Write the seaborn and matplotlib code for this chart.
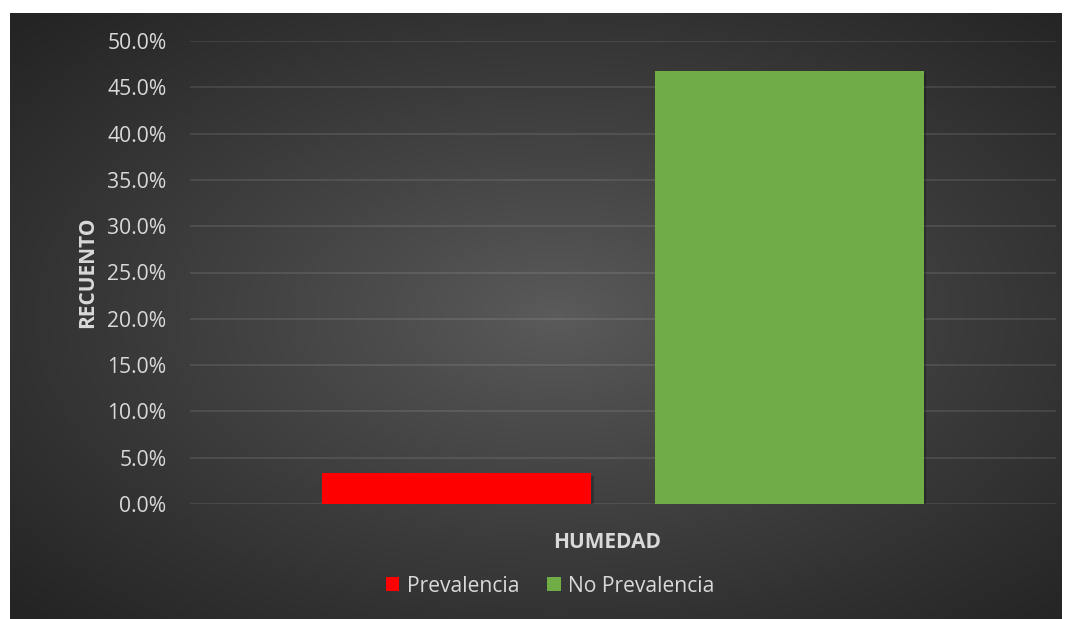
import numpy as np
import pandas as pd
import matplotlib
matplotlib.use('Agg')
import matplotlib.pyplot as plt
import matplotlib.patheffects as pe
from matplotlib.patches import Patch
from matplotlib.ticker import FuncFormatter
import seaborn as sns

# data
factores = ['HUMEDAD']
series = ['Prevalencia', 'No Prevalencia']
valores = [0.033, 0.468]
colores = ['#ff0000', '#70ad47']
y_ticks = [0.0, 0.05, 0.10, 0.15, 0.20, 0.25, 0.30, 0.35, 0.40, 0.45, 0.50]

df = pd.DataFrame({'factor': factores * len(series), 'serie': series, 'valor': valores})

sns.set_theme(style='white')
plt.rcParams['font.family'] = ['Open Sans', 'DejaVu Sans']
txt = '#d9d9d9'

W, H = 1066, 619
fig = plt.figure(figsize=(W / 100, H / 100), dpi=100)
fig.patch.set_facecolor('white')

# dark radial-gradient panel
bg = fig.add_axes([10 / W, 0, 1052 / W, 606 / H])
yy, xx = np.mgrid[0:1:300j, 0:1:500j]
r = np.sqrt(((xx - 0.52) / 0.5) ** 2 + ((yy - 0.5) / 0.5) ** 2) / np.sqrt(2)
r = np.clip(r, 0, 1)
g = (0x5b - (0x5b - 0x24) * r ** 0.9) / 255
bg.imshow(np.dstack([g, g, g]), aspect='auto', extent=[0, 1, 0, 1])
bg.set_axis_off()

ax = fig.add_axes([190 / W, 1 - 504 / H, 866 / W, (504 - 41) / H])
ax.set_facecolor('none')
sns.barplot(data=df, x='factor', y='valor', hue='serie', palette=colores,
            width=0.767, gap=0.19, saturation=1, linewidth=0, ax=ax, legend=False, zorder=3)
for p in ax.patches:
    p.set_edgecolor('none')
    p.set_path_effects([pe.SimplePatchShadow(offset=(1.5, -1.5), shadow_rgbFace='black', alpha=0.25), pe.Normal()])

ax.set_xlim(-0.5, 0.5)
ax.set_ylim(0, 0.5)
ax.set_yticks(y_ticks)
ax.yaxis.set_major_formatter(FuncFormatter(lambda v, _: f'{v:.1%}'))
ax.grid(axis='y', color='white', alpha=0.1, linewidth=1.3, zorder=0)
ax.set_axisbelow(True)
for s in ax.spines.values():
    s.set_visible(False)
ax.tick_params(axis='y', length=0, pad=17, labelsize=15.2, labelcolor=txt)
ax.set_xticks([])
ax.set_xlabel('HUMEDAD', fontsize=15, fontweight='bold', color=txt, va='center')
ax.xaxis.set_label_coords((607 - 190) / 866, -(542 - 504) / 463)
ax.set_ylabel('RECUENTO', fontsize=15, fontweight='bold', color=txt, va='center')
ax.yaxis.set_label_coords(-(190 - 88) / 866, (504 - 272) / 463)

handles = [Patch(facecolor=c, edgecolor='none') for c in colores]
fig.legend(handles, series, loc='center', bbox_to_anchor=(550 / W, 1 - 586 / H), ncol=2,
           frameon=False, fontsize=15.2, labelcolor=txt, handlelength=0.65, handleheight=0.65,
           handletextpad=0.35, columnspacing=1.3)

fig.savefig('out.png', dpi=100, facecolor='white')
